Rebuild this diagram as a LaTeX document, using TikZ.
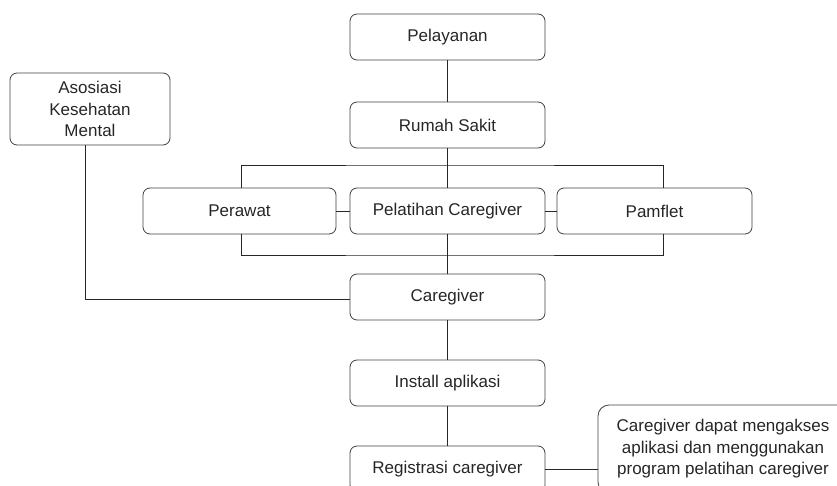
\documentclass[tikz,border=0pt]{standalone}
\usepackage{fontspec}
\setmainfont{Liberation Sans}
\usetikzlibrary{positioning}

\tikzset{
    box/.style={rectangle, rounded corners=7pt, draw=black!75, line width=0.8pt,
        minimum width=195pt, minimum height=46pt, inner sep=2pt,
        font=\fontsize{17}{21.5}\selectfont, text=black!85},
    link/.style={draw=black!85, line width=0.9pt}
}

\begin{document}
\begin{tikzpicture}[x=1pt, y=-1pt, node distance=86pt]
    \useasboundingbox (0,0) rectangle (837,486);
    \clip (0,0) rectangle (837,486);

    \node[box] (pelayanan) at (447.5,37) {Pelayanan};
    \node[box, below of=pelayanan, yshift=-2pt] (rumahsakit) {Rumah Sakit};
    \node[box, below of=rumahsakit] (pelatihan) {Pelatihan Caregiver};
    \node[box, minimum width=193pt, left of=pelatihan, node distance=208pt] (perawat) {Perawat};
    \node[box, right of=pelatihan, node distance=207pt] (pamflet) {Pamflet};
    \node[box, below of=pelatihan] (caregiver) {Caregiver};
    \node[box, below of=caregiver] (install) {Install aplikasi};
    \node[box, below of=install] (registrasi) {Registrasi caregiver};
    \node[box, minimum width=160pt, minimum height=72pt, align=center] (asosiasi) at (90,109) {Asosiasi\\Kesehatan\\Mental};
    \node[box, minimum width=250pt, minimum height=88pt, rounded corners=11pt, align=center] (catatan) at (723,449)
        {Caregiver dapat mengakses\\aplikasi dan menggunakan\\program pelatihan caregiver};

    \coordinate (bustop) at (447.5,165);
    \coordinate (busbottom) at (447.5,255);

    \draw[link] (rumahsakit) -- (pelatihan);
    \draw[link] ([xshift=2pt]perawat.north) |- (bustop) -| ([xshift=9pt]pamflet.north);
    \draw[link] ([xshift=2pt]perawat.south) |- (busbottom) -| ([xshift=9pt]pamflet.south);
    \draw[link] (perawat) -- (pelatihan);
    \draw[link] (pelatihan) -- (pamflet);
    \draw[link] (pelayanan) -- (rumahsakit);
    \draw[link] (pelatihan) -- (caregiver);
    \draw[link] ([xshift=-5pt]asosiasi.south) |- ([yshift=-2pt]caregiver.west);
    \draw[link] (caregiver) -- (install);
    \draw[link] (install) -- (registrasi);
    \draw[link] (registrasi.east) -- (registrasi.east -| catatan.west);
\end{tikzpicture}
\end{document}
